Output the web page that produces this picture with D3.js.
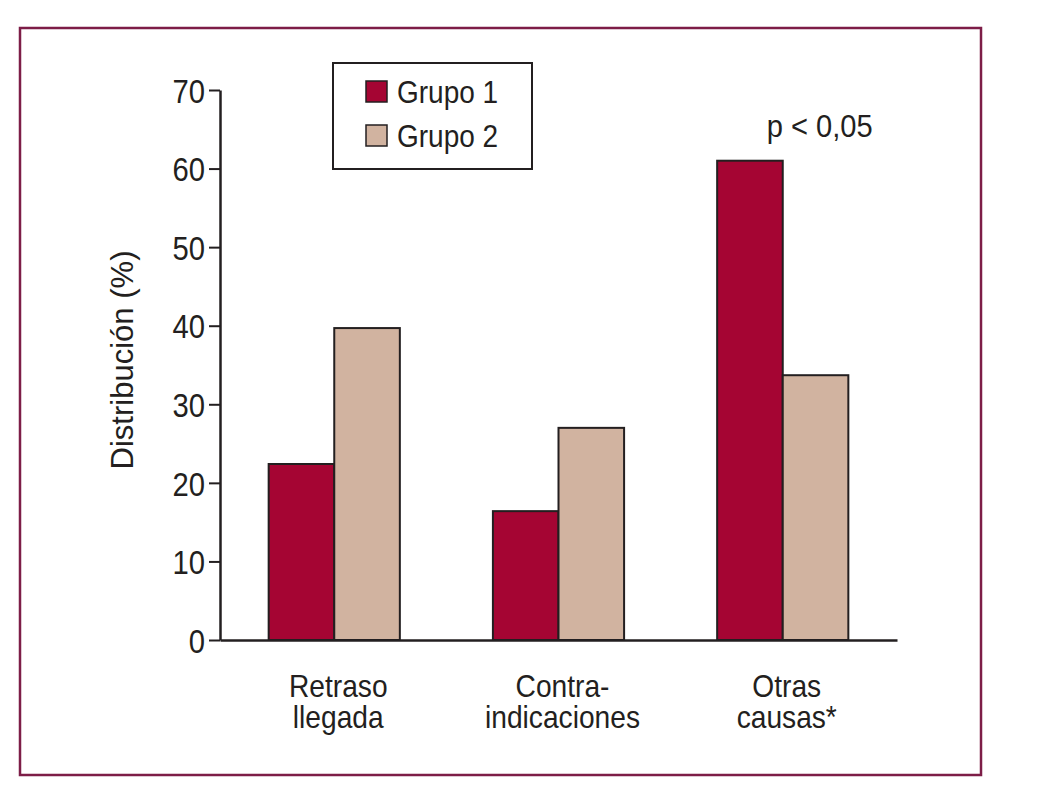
<!DOCTYPE html>
<html>
<head>
<meta charset="utf-8">
<script src="https://cdn.jsdelivr.net/npm/d3@7"></script>
<style>
  html, body { margin: 0; padding: 0; background: #fff; }
  svg text { font-family: "Liberation Sans", Arial, sans-serif; fill: #231f20; }
</style>
</head>
<body>
<svg id="chart" width="1037" height="795"></svg>
<script>
const categories = [["Retraso", "llegada"], ["Contra-", "indicaciones"], ["Otras", "causas*"]];
const categoryKeys = ["Retraso llegada", "Contraindicaciones", "Otras causas"];
const seriesNames = ["Grupo 1", "Grupo 2"];
const grupo1 = [22.4, 16.4, 61.0];
const grupo2 = [39.7, 27.0, 33.7];
const yTicks = [0, 10, 20, 30, 40, 50, 60, 70];
const yLabel = "Distribución (%)";
const annotation = { category: "Otras causas", text: "p < 0,05", value: 64 };

const colors = ["#a50533", "#d1b3a0"];
const ink = "#231f20";
const SX = 0.88; // horizontal condensing to mimic a condensed typeface

const svg = d3.select("#chart");

function condensedText(parent, x, y, str, size, anchor, sx) {
  const g = parent.append("g").attr("transform", `translate(${x},${y}) scale(${sx || SX},1)`);
  return g.append("text").attr("x", 0).attr("y", 0)
    .attr("text-anchor", anchor || "start").attr("font-size", size).text(str);
}

// Frame
svg.append("rect")
  .attr("x", 20).attr("y", 28).attr("width", 961).attr("height", 747)
  .attr("fill", "none").attr("stroke", "#7d1d47").attr("stroke-width", 2.5);

const x0 = d3.scaleBand().domain(categoryKeys).range([220, 897]).paddingInner(0.415).paddingOuter(0.217);
const x1 = d3.scaleBand().domain(seriesNames).range([0, x0.bandwidth()]);
const y = d3.scaleLinear().domain([0, 70]).range([640, 90]);

const data = categoryKeys.map((k, i) => ({ key: k, values: [grupo1[i], grupo2[i]] }));

// Bars
const groups = svg.append("g").selectAll("g").data(data).join("g")
  .attr("transform", d => `translate(${x0(d.key)},0)`);
groups.selectAll("rect").data(d => d.values.map((v, j) => ({ v, s: seriesNames[j], j })))
  .join("rect")
  .attr("x", d => x1(d.s))
  .attr("y", d => y(d.v))
  .attr("width", x1.bandwidth())
  .attr("height", d => y(0) - y(d.v))
  .attr("fill", d => colors[d.j])
  .attr("stroke", ink).attr("stroke-width", 2);

// Y axis
const yAxis = svg.append("g").attr("transform", "translate(220,0)")
  .call(d3.axisLeft(y).tickValues(yTicks).tickSize(11).tickPadding(4).tickSizeOuter(0));
yAxis.select(".domain").attr("stroke", ink).attr("stroke-width", 2.5);
yAxis.selectAll(".tick line").attr("stroke", ink).attr("stroke-width", 2);
yAxis.selectAll(".tick text")
  .attr("x", 0).attr("dy", "0.36em")
  .attr("transform", "translate(-15,0) scale(0.86,1)")
  .attr("font-size", 34).attr("fill", ink)
  .style("font-family", '"Liberation Sans", Arial, sans-serif');

// X axis line
const xAxis = svg.append("g").attr("transform", "translate(0,640)")
  .call(d3.axisBottom(x0).tickSize(0).tickFormat(""));
xAxis.select(".domain").attr("stroke", ink).attr("stroke-width", 2.5);

// X labels
categoryKeys.forEach((k, i) => {
  const cx = x0(k) + x0.bandwidth() / 2 + 4;
  condensedText(svg, cx, 697, categories[i][0], 32, "middle");
  condensedText(svg, cx, 728, categories[i][1], 32, "middle");
});

// Y label
svg.append("g").attr("transform", "translate(133,360) rotate(-90) scale(0.97,1)")
  .append("text").attr("text-anchor", "middle").attr("font-size", 32).text(yLabel);

// Annotation
condensedText(svg, x0(annotation.category) + x0.bandwidth() / 2 + 37, y(annotation.value),
  annotation.text, 32, "middle", 0.91);

// Legend
const lg = svg.append("g");
lg.append("rect").attr("x", 333).attr("y", 63).attr("width", 199).attr("height", 106)
  .attr("fill", "#fff").attr("stroke", ink).attr("stroke-width", 2);
seriesNames.forEach((s, i) => {
  lg.append("rect").attr("x", 366).attr("y", 81 + i * 44).attr("width", 21).attr("height", 21)
    .attr("fill", colors[i]).attr("stroke", ink).attr("stroke-width", 1.5);
  condensedText(lg, 397, 103 + i * 44, s, 32, "start", 0.875);
});
</script>
</body>
</html>
